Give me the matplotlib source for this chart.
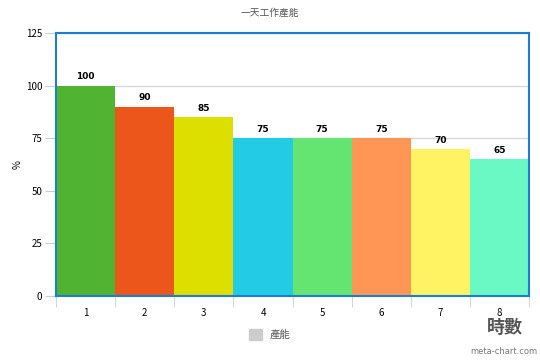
import numpy as np
import matplotlib.pyplot as plt
from matplotlib.patches import Patch

plt.rcParams['font.family'] = ['Noto Sans CJK TC', 'DejaVu Sans']

hours = ['1', '2', '3', '4', '5', '6', '7', '8']
output = [100, 90, 85, 75, 75, 75, 70, 65]
colors = ['#50B432', '#ED561B', '#DDDF00', '#24CBE5',
          '#64E572', '#FF9655', '#FFF263', '#6AF9C4']

fig = plt.figure(figsize=(5.4, 3.6), dpi=100)
ax = fig.add_axes([0.1037, 0.178, 0.8763, 0.730])

x = np.arange(1, len(hours) + 1)
ax.bar(x, output, width=1.0, color=colors, zorder=2)
for xi, v in zip(x, output):
    ax.text(xi, v + 2, str(v), ha='center', va='bottom',
            fontsize=6.5, fontweight='bold', family='DejaVu Sans')

ax.set_xlim(0.5, 8.5)
ax.set_ylim(0, 125)
ax.set_yticks([0, 25, 50, 75, 100, 125])
ax.yaxis.grid(True, color='#d8d8d8', lw=1, zorder=0)
ax.tick_params(axis='y', length=8, color='#c0d0e0', labelsize=7, pad=2)
ax.set_xticks(x)
ax.set_xticklabels(hours, fontsize=7)
ax.set_xticks(np.arange(0.5, 9, 1), minor=True)
ax.tick_params(axis='x', which='major', length=0, pad=9)
ax.tick_params(axis='x', which='minor', length=8, color='#c0d0e0')
for s in ax.spines.values():
    s.set_color('#1a7fd4')
    s.set_linewidth(1.5)

ax.set_ylabel('%', fontsize=7, labelpad=2)
fig.text(0.5, 0.965, '一天工作產能', ha='center', va='center',
         fontsize=7, color='#555555')
fig.text(0.935, 0.09, '時數', ha='center', va='center',
         fontsize=13, fontweight='bold', color='#555555')
fig.text(0.995, 0.01, 'meta-chart.com', ha='right', va='bottom',
         fontsize=6, color='#777777', family='DejaVu Sans')
fig.legend(handles=[Patch(color='#cccccc', label='產能')],
           loc='center', bbox_to_anchor=(0.5, 0.07), frameon=False,
           fontsize=7.5, handlelength=1.2, handleheight=1.2,
           labelcolor='#555555')

plt.savefig('out.png', dpi=100)
